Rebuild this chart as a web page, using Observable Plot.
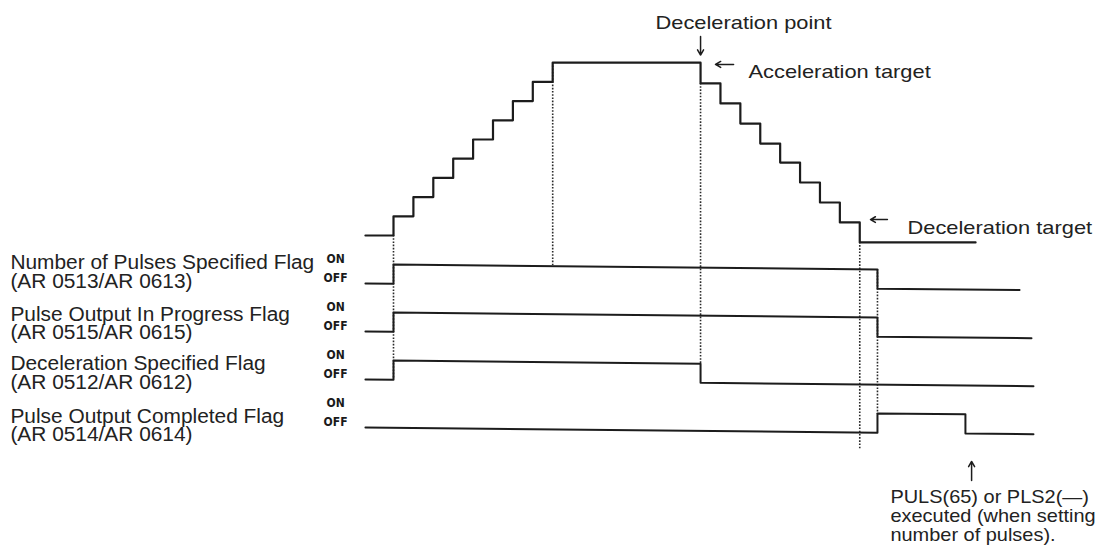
<!DOCTYPE html>
<html><head><meta charset="utf-8">
<script src="https://cdn.jsdelivr.net/npm/d3@7"></script>
<script src="https://cdn.jsdelivr.net/npm/@observablehq/plot@0.6"></script>
<style>
html,body{margin:0;padding:0;background:#fff;}
#chart svg{display:block;}
</style>
</head><body><div id="chart"></div>
<script>
// ---- Data (time unit = one speed step, speed unit = one step height) ----
const accelTimes  = [-1.41, 0, 1, 2, 3, 4, 5, 6, 7, 8];
const accelSpeeds = [0, 1, 2, 3, 4, 5, 6, 7, 8, 9];
const decelTimes  = [15.43, 16.43, 17.43, 18.43, 19.43, 20.43, 21.43, 22.43, 23.43];
const decelSpeeds = [7.92, 6.88, 5.83, 4.79, 3.80, 2.76, 1.72, 0.68, -0.36];
const profileEnd  = 29.25;

const flagNames = ["Number of Pulses Specified Flag", "Pulse Output In Progress Flag",
                   "Deceleration Specified Flag", "Pulse Output Completed Flag"];
const flagCodes = ["(AR 0513/AR 0613)", "(AR 0515/AR 0615)", "(AR 0512/AR 0612)", "(AR 0514/AR 0614)"];
// [time, state] transitions per flag; first entry = start of trace
const flagTransitions = [
  [[-1.41, 0], [0, 1], [24.32, 0]],
  [[-1.41, 0], [0, 1], [24.32, 0]],
  [[-1.41, 0], [0, 1], [15.43, 0]],
  [[-1.41, 0], [24.32, 1], [28.74, 0]]
];
const flagEnds = [31.46, 32.06, 32.16, 32.16];
const stateLabels = ["ON", "OFF"];

// event markers (dotted guides): time, top level, bottom level
const guideTimes = [0, 8, 15.43, 23.43, 24.32];
const guideTops = [0, 9, 7.92, -0.36, -1.77];
const guideBottoms = [-7.5, -1.56, -6.67, -11.2, -9.32];

const noteTexts = ["Deceleration point", "Acceleration target", "Deceleration target"];
const bottomNoteLines = ["PULS(65) or PLS2(\u2014)", "executed (when setting", "number of pulses)."];

// ---- Layout ----
const W = 1117, H = 558;
const pxPerT = 19.9, x0px = 393;      // t = 0 at this pixel
const pxPerV = 19.2, y0px = 235;      // v = 0 at this pixel
const laneGap = 2.5, onHeight = 1, drift = 0.0104, tStart = -1.41;
const laneLevel = (i, state, t) => -laneGap * (i + 1) + state * onHeight - drift * (t - tStart);

// speed profile
const profile = [];
accelTimes.forEach((t, i) => profile.push({t, v: accelSpeeds[i]}));
decelTimes.forEach((t, i) => profile.push({t, v: decelSpeeds[i]}));
profile.push({t: profileEnd, v: decelSpeeds[decelSpeeds.length - 1]});

// flag traces
const flagPts = [];
flagTransitions.forEach((tr, i) => {
  let prev = tr[0][1];
  flagPts.push({flag: i, t: tr[0][0], v: laneLevel(i, prev, tr[0][0])});
  tr.slice(1).forEach(([t, s]) => {
    flagPts.push({flag: i, t, v: laneLevel(i, prev, t)});
    flagPts.push({flag: i, t, v: laneLevel(i, s, t)});
    prev = s;
  });
  flagPts.push({flag: i, t: flagEnds[i], v: laneLevel(i, prev, flagEnds[i])});
});

const guides = guideTimes.map((t, i) => ({t, top: guideTops[i], bottom: guideBottoms[i]}));

const tLabel = -19.25;
const labelBase = [-1.77, -4.43, -7.03, -9.74];
const labelRows = [];
flagNames.forEach((n, i) => {
  labelRows.push({text: n, t: tLabel, v: labelBase[i]});
  labelRows.push({text: flagCodes[i], t: tLabel, v: labelBase[i] - 0.96});
});
const stateRows = [];
flagNames.forEach((n, i) => {
  stateRows.push({text: stateLabels[0], t: -2.91, v: -laneGap * (i + 1) + 1.09});
  stateRows.push({text: stateLabels[1], t: -2.91, v: -laneGap * (i + 1) + 0.08});
});

const ink = "#1c1c1c";
const font = "'Liberation Sans', Arial, Helvetica, sans-serif";
const arrowOpts = {x1: "x1", y1: "y1", x2: "x2", y2: "y2", stroke: ink, strokeWidth: 1.5, headLength: 6};

const chart = Plot.plot({
  width: W, height: H, margin: 0,
  x: {domain: [(0 - x0px) / pxPerT, (W - x0px) / pxPerT], axis: null},
  y: {domain: [(y0px - H) / pxPerV, y0px / pxPerV], axis: null},
  style: {background: "#fff", fontFamily: font},
  marks: [
    Plot.ruleX(guides, {x: "t", y1: "top", y2: "bottom", stroke: "#2a2a2a", strokeWidth: 1.6, strokeDasharray: "1.6,1.6"}),
    Plot.line(profile, {x: "t", y: "v", curve: "step-after", stroke: ink, strokeWidth: 2.2}),
    Plot.line(flagPts, {x: "t", y: "v", z: "flag", stroke: ink, strokeWidth: 2}),
    Plot.arrow([{x1: 15.43, y1: 10.36, x2: 15.43, y2: 9.4}], arrowOpts),
    Plot.arrow([{x1: 17.09, y1: 8.91, x2: 16.18, y2: 8.91}], arrowOpts),
    Plot.arrow([{x1: 24.82, y1: 0.83, x2: 23.97, y2: 0.83}], arrowOpts),
    Plot.arrow([{x1: 29.05, y1: -12.76, x2: 29.05, y2: -11.77}], arrowOpts),
    Plot.text([{text: noteTexts[0], t: 17.59, v: 10.78}], {x: "t", y: "v", text: "text", textAnchor: "middle", lineAnchor: "bottom", fontSize: 19, fill: "#222", ariaDescription: "note"}),
    Plot.text([{text: noteTexts[1], t: 17.84, v: 8.18}, {text: noteTexts[2], t: 25.83, v: 0.10}], {x: "t", y: "v", text: "text", textAnchor: "start", lineAnchor: "bottom", fontSize: 19, fill: "#222", ariaDescription: "note"}),
    Plot.text(bottomNoteLines.map((s, i) => ({text: s, t: 24.97, v: -13.91 - 0.99 * i})), {x: "t", y: "v", text: "text", textAnchor: "start", lineAnchor: "bottom", fontSize: 19, fill: "#222", ariaDescription: "bottomnote"}),
    Plot.text(labelRows, {x: "t", y: "v", text: "text", textAnchor: "start", lineAnchor: "bottom", fontSize: 19.5, fill: "#222", ariaDescription: "label"}),
    Plot.text(stateRows, {x: "t", y: "v", text: "text", textAnchor: "middle", lineAnchor: "bottom", fontSize: 12, fontWeight: "bold", fill: "#1a1a1a", fontFamily: "'Liberation Sans Narrow', 'DejaVu Sans Condensed', sans-serif", ariaDescription: "state"})
  ]
});
document.getElementById("chart").append(chart);

function stretch(label, k) {
  chart.querySelectorAll(`g[aria-description="${label}"] text`).forEach(el => {
    const w = el.getComputedTextLength();
    el.setAttribute("textLength", (w * k).toFixed(1));
    el.setAttribute("lengthAdjust", "spacingAndGlyphs");
  });
}
stretch("note", 1.15);
stretch("bottomnote", 1.05);
stretch("label", 1.07);
</script>
</body></html>
